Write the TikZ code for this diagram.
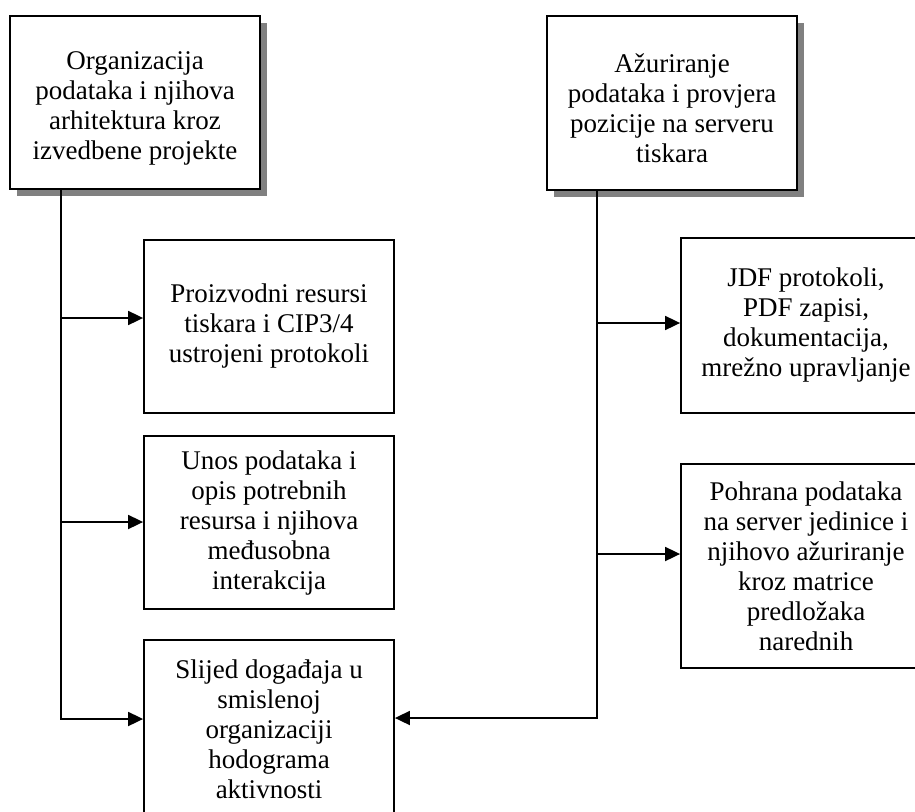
\documentclass[tikz,border=0pt]{standalone}
\usepackage{fontspec}
\setmainfont{Liberation Serif}
\usetikzlibrary{arrows.meta,shadows}
\begin{document}
\begin{tikzpicture}[x=1pt,y=-1pt,
  box/.style={draw=black, line width=1.8pt, fill=white, rectangle, inner sep=0pt,
    minimum width=250pt, align=center, font=\fontsize{27}{30}\selectfont},
  shbox/.style={box, drop shadow={shadow xshift=7pt, shadow yshift=-7pt, fill=gray, opacity=1}},
  conn/.style={line width=1.8pt},
  arr/.style={conn, -{Triangle[length=15pt,width=14pt]}}
]
\useasboundingbox (0,0) rectangle (915,811);
\fill[white] (0,0) rectangle (915,811);

\node[shbox, minimum height=173pt] (A) at (135,102.5)
  {\rule{0pt}{29pt}Organizacija\\podataka i njihova\\arhitektura kroz\\izvedbene projekte};
\node[shbox, minimum height=174pt] (B) at (672,103)
  {\rule{0pt}{29pt}Ažuriranje\\podataka i provjera\\pozicije na serveru\\tiskara};
\node[box, minimum height=173pt] (C) at (269,326.5)
  {Proizvodni resursi\\tiskara i CIP3/4\\ustrojeni protokoli};
\node[box, minimum height=173pt] (D) at (269,522.5)
  {Unos podataka i\\opis potrebnih\\resursa i njihova\\međusobna\\interakcija};
\node[box, minimum height=178pt] (E) at (269,729)
  {Slijed događaja u\\smislenoj\\organizaciji\\hodograma\\aktivnosti};
\node[box, minimum height=175pt] (F) at (806,325.5)
  {JDF protokoli,\\PDF zapisi,\\dokumentacija,\\mrežno upravljanje};
\node[box, minimum height=204pt] (G) at (806,566)
  {Pohrana podataka\\na server jedinice i\\njihovo ažuriranje\\kroz matrice\\predložaka\\narednih};

\coordinate (lbot) at (61,719);
\coordinate (lc) at (61,318);
\coordinate (ld) at (61,522);
\coordinate (rbot) at (597,718);
\coordinate (rf) at (597,323);
\coordinate (rg) at (597,554);

\draw[arr] (A.south -| lbot) -- (lbot) -- (E.west |- lbot);
\draw[arr] (lc) -- (C.west |- lc);
\draw[arr] (ld) -- (D.west |- ld);
\draw[arr] (B.south -| rbot) -- (rbot) -- (E.east |- rbot);
\draw[arr] (rf) -- (F.west |- rf);
\draw[arr] (rg) -- (G.west |- rg);
\end{tikzpicture}
\end{document}
